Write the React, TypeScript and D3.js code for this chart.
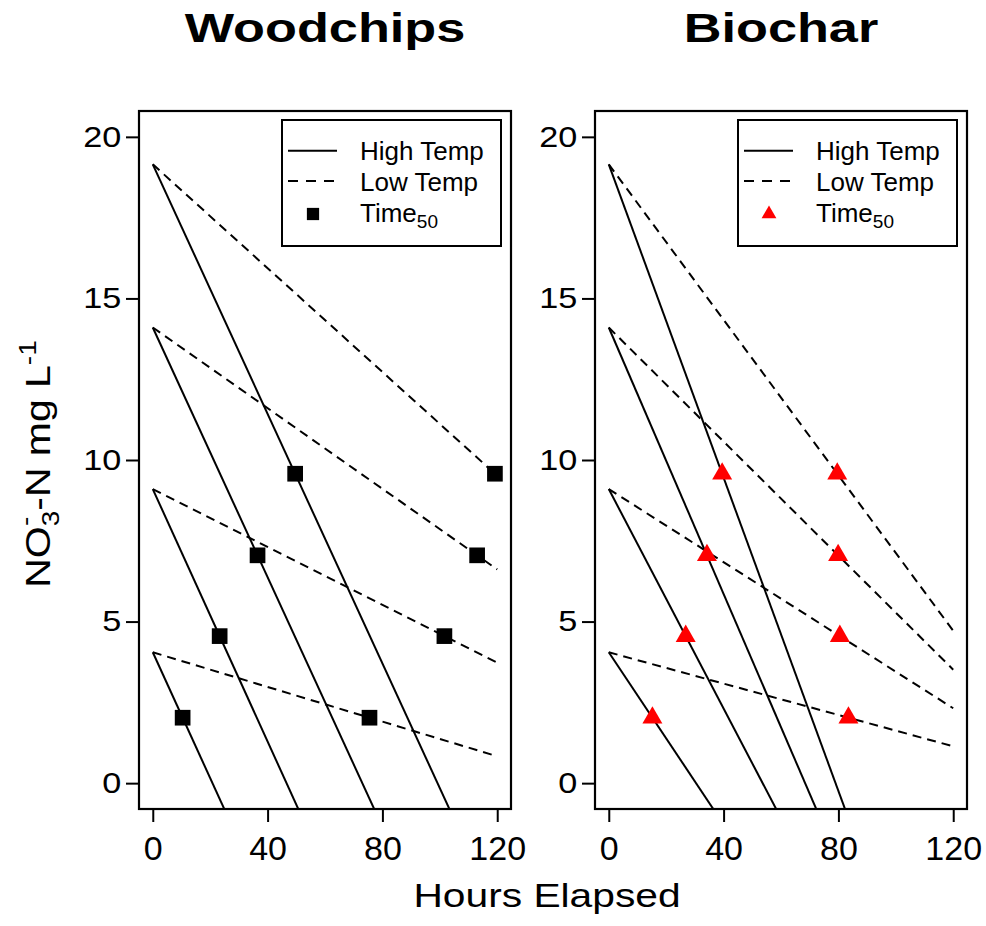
import { useEffect, useRef } from 'react';
import * as d3 from 'd3';

// ---- data ----
const hourTicks = [0, 40, 80, 120];
const concTicks = [0, 5, 10, 15, 20];

// starting NO3-N concentration of each run (mg/L)
const startConc = [4.05, 9.1, 14.1, 19.15];

// hours to reach half the starting concentration
const woodHighT50 = [10.4, 23.3, 36.5, 49.6];
const woodLowT50 = [75.5, 101.6, 113.0, 119.2];
const bioHighT50 = [15.2, 26.8, 34.2, 39.5];
const bioLowT50 = [83.5, 80.5, 79.9, 79.6];

const panelTitles = ['Woodchips', 'Biochar'];

const FONT = '"Liberation Sans", Arial, Helvetica, sans-serif';

const App = () => {
  const svgRef = useRef<SVGSVGElement>(null);

  useEffect(() => {
    const svg = d3.select(svgRef.current);
    svg.selectAll('*').remove();

    const top = 111;
    const bottom = 809;
    const panelW = 372;
    const panelLefts = [139, 595];

    const y = d3.scaleLinear().domain([-0.8, 20.8]).range([bottom, top]);

    const panels = [
      { title: panelTitles[0], high: woodHighT50, low: woodLowT50, symbol: d3.symbolSquare, size: 246, legendSize: 150, color: '#000' },
      { title: panelTitles[1], high: bioHighT50, low: bioLowT50, symbol: d3.symbolTriangle, size: 173, legendSize: 95, color: '#ff0000' },
    ];

    panels.forEach((p, i) => {
      const left = panelLefts[i];
      const x = d3.scaleLinear().domain([-4.8, 124.8]).range([left, left + panelW]);
      const g = svg.append('g');

      const clipId = `clip-${i}`;
      svg.append('defs').append('clipPath').attr('id', clipId)
        .append('rect')
        .attr('x', left).attr('y', top)
        .attr('width', panelW).attr('height', bottom - top);

      // fitted lines through (0, c0) and (t50, c0/2)
      const line = d3.line<[number, number]>().x(d => x(d[0])).y(d => y(d[1]));
      const fit = (c0: number, t50: number): [number, number][] => [
        [0, c0],
        [120, c0 * (1 - 120 / (2 * t50))],
      ];

      const lines = g.append('g').attr('clip-path', `url(#${clipId})`);
      startConc.forEach((c0, k) => {
        lines.append('path')
          .attr('d', line(fit(c0, p.high[k])))
          .attr('fill', 'none').attr('stroke', '#000').attr('stroke-width', 2);
        lines.append('path')
          .attr('d', line(fit(c0, p.low[k])))
          .attr('fill', 'none').attr('stroke', '#000').attr('stroke-width', 2)
          .attr('stroke-dasharray', '9,6');
      });

      // Time50 markers
      const sym = d3.symbol().type(p.symbol).size(p.size);
      const pts = startConc.flatMap((c0, k) => [
        [p.high[k], c0 / 2],
        [p.low[k], c0 / 2],
      ]);
      g.selectAll('.pt')
        .data(pts)
        .enter()
        .append('path')
        .attr('d', sym())
        .attr('transform', d => `translate(${x(d[0])},${y(d[1])})`)
        .attr('fill', p.color);

      // box
      g.append('rect')
        .attr('x', left).attr('y', top)
        .attr('width', panelW).attr('height', bottom - top)
        .attr('fill', 'none').attr('stroke', '#000').attr('stroke-width', 2.2);

      // axes
      const xAxis = d3.axisBottom(x).tickValues(hourTicks).tickSize(13).tickSizeOuter(0).tickPadding(14);
      const xa = g.append('g').attr('transform', `translate(0,${bottom})`).call(xAxis);
      xa.select('.domain').remove();
      xa.selectAll('line').attr('stroke-width', 2);
      xa.selectAll('text').style('font-family', FONT).style('font-size', '34px').attr('fill', '#000');

      const yAxis = d3.axisLeft(y).tickValues(concTicks).tickSize(13).tickSizeOuter(0).tickPadding(2);
      const ya = g.append('g').attr('transform', `translate(${left},0)`).call(yAxis);
      ya.select('.domain').remove();
      ya.selectAll('line').attr('stroke-width', 2);
      ya.selectAll('text')
        .style('font-family', FONT).style('font-size', '29px').attr('fill', '#000')
        .attr('transform', 'scale(1.18,1)');

      // title
      g.append('g')
        .attr('transform', `translate(${left + panelW / 2},42) scale(1.29,1)`)
        .append('text')
        .attr('text-anchor', 'middle')
        .style('font-family', FONT).style('font-size', '40.5px').style('font-weight', 'bold')
        .text(p.title);

      // legend
      const lw = 219;
      const lh = 126;
      const lx = left + panelW - 10 - lw;
      const ly = 120;
      const lg = g.append('g');
      lg.append('rect')
        .attr('x', lx).attr('y', ly).attr('width', lw).attr('height', lh)
        .attr('fill', '#fff').attr('stroke', '#000').attr('stroke-width', 2);
      lg.append('line')
        .attr('x1', lx + 6).attr('x2', lx + 55).attr('y1', 150.7).attr('y2', 150.7)
        .attr('stroke', '#000').attr('stroke-width', 2);
      lg.append('line')
        .attr('x1', lx + 6).attr('x2', lx + 55).attr('y1', 181).attr('y2', 181)
        .attr('stroke', '#000').attr('stroke-width', 2).attr('stroke-dasharray', '10,8');
      lg.append('path')
        .attr('d', d3.symbol().type(p.symbol).size(p.legendSize)())
        .attr('transform', `translate(${lx + 31},214)`)
        .attr('fill', p.color);

      const legText = (ty: number) =>
        lg.append('text')
          .attr('x', lx + 78).attr('y', ty)
          .style('font-family', FONT).style('font-size', '26px');
      legText(160).text('High Temp');
      legText(190.7).text('Low Temp');
      const t50 = legText(221.7);
      t50.append('tspan').text('Time');
      t50.append('tspan').attr('dy', 6).style('font-size', '19px').text('50');
    });

    // x label
    svg.append('g')
      .attr('transform', 'translate(547,906.7) scale(1.25,1)')
      .append('text')
      .attr('text-anchor', 'middle')
      .style('font-family', FONT).style('font-size', '32.6px')
      .text('Hours Elapsed');

    // y label
    const yl = svg.append('g')
      .attr('transform', 'translate(50,464) rotate(-90) scale(1.17,1)')
      .append('text')
      .attr('text-anchor', 'middle')
      .style('font-family', FONT).style('font-size', '35px');
    yl.append('tspan').text('NO');
    yl.append('tspan').attr('dy', 9).style('font-size', '24px').text('3');
    yl.append('tspan').attr('dx', -13).attr('dy', -26).style('font-size', '24px').text('-');
    yl.append('tspan').attr('dx', 5).attr('dy', 17).text('-N mg L');
    yl.append('tspan').attr('dy', -14).style('font-size', '24px').text('-1');
  }, []);

  return (
    <svg
      ref={svgRef}
      width={986}
      height={926}
      style={{ position: 'absolute', left: 0, top: 0, background: '#fff' }}
    ></svg>
  );
};

export default App;
